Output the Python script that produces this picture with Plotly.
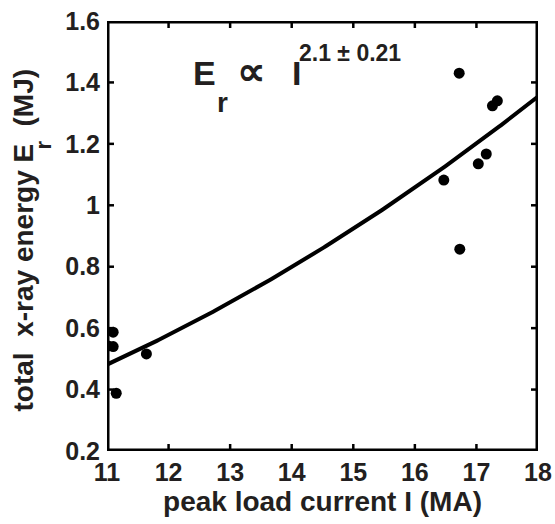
import numpy as np
import plotly.graph_objects as go

# Measured shots: peak load current (MA) and total x-ray energy (MJ)
current_MA = [11.02, 11.10, 11.10, 11.15, 11.64, 16.47, 16.72, 16.73, 17.03, 17.16, 17.26, 17.34]
energy_MJ = [0.542, 0.587, 0.540, 0.388, 0.516, 1.082, 1.430, 0.857, 1.135, 1.167, 1.324, 1.340]

# Power-law fit E_r = a * I^p
fit_exponent = 2.1
fit_coeff = 0.00313

x_ticks = [11, 12, 13, 14, 15, 16, 17, 18]
y_ticks = [0.2, 0.4, 0.6, 0.8, 1.0, 1.2, 1.4, 1.6]
y_tick_text = ["0.2", "0.4", "0.6", "0.8", "1", "1.2", "1.4", "1.6"]

INK = "#231f20"
FONT = "Liberation Sans"
W, H = 555, 524
MARGIN = dict(l=107, r=17, t=21, b=73)
PLOT_W = W - MARGIN["l"] - MARGIN["r"]
PLOT_H = H - MARGIN["t"] - MARGIN["b"]
TICK_LEN = 7  # px, ticks point into the plot on all four sides

x0, x1 = x_ticks[0], x_ticks[-1]
y0, y1 = y_ticks[0], y_ticks[-1]

i_fit = np.linspace(x0, x1, 200)
e_fit = fit_coeff * i_fit ** fit_exponent

fig = go.Figure()

# Box frame drawn as a closed line around the axis ranges
fig.add_trace(go.Scatter(x=[x0, x1, x1, x0, x0], y=[y0, y0, y1, y1, y0], mode="lines",
                         line=dict(color="black", width=5), hoverinfo="skip"))

# Inward ticks on all four sides
dy = TICK_LEN * (y1 - y0) / PLOT_H
dx = TICK_LEN * (x1 - x0) / PLOT_W
tx, ty = [], []
for v in x_ticks[1:-1]:
    tx += [v, v, None, v, v, None]
    ty += [y0, y0 + dy, None, y1, y1 - dy, None]
for v in y_ticks[1:-1]:
    tx += [x0, x0 + dx, None, x1, x1 - dx, None]
    ty += [v, v, None, v, v, None]
fig.add_trace(go.Scatter(x=tx, y=ty, mode="lines", line=dict(color="black", width=2.5),
                         hoverinfo="skip"))

fig.add_trace(go.Scatter(x=i_fit, y=e_fit, mode="lines",
                         line=dict(color="black", width=4), hoverinfo="skip"))
fig.add_trace(go.Scatter(x=current_MA, y=energy_MJ, mode="markers",
                         marker=dict(color="black", size=11)))

axis_common = dict(showgrid=False, zeroline=False, showline=False, ticks="",
                   automargin=False,
                   tickfont=dict(family=FONT, size=25, color=INK))

fig.update_xaxes(range=[x0, x1], tickvals=x_ticks,
                 ticktext=[f"<b>{v}</b>" for v in x_ticks], ticklabelstandoff=4,
                 title=dict(text="<b>peak load current I (MA)</b>", standoff=5,
                            font=dict(family=FONT, size=28, color=INK)),
                 **axis_common)
fig.update_yaxes(range=[y0, y1], tickvals=y_ticks,
                 ticktext=[f"<b>{t}</b>" for t in y_tick_text], ticklabelstandoff=6,
                 **axis_common)


def label(text, x, y, size, xanchor="left", angle=0):
    fig.add_annotation(text=f"<b>{text}</b>", x=x, y=y, xref="paper", yref="paper",
                       xanchor=xanchor, yanchor="middle", showarrow=False,
                       textangle=angle, font=dict(family=FONT, size=size, color=INK))


# Y-axis title, with a deep subscript on E
label("total\u00a0 x-ray energy E", -0.1949, 0.4035, 28, xanchor="center", angle=-90)
label("r", -0.1485, 0.7128, 22, xanchor="center", angle=-90)
label("(MJ)", -0.1949, 0.8221, 28, xanchor="center", angle=-90)

# Scaling-law label
label("E", 0.195, 0.880, 34)
label("r", 0.251, 0.811, 28)
label("∝", 0.3357, 0.883, 40, xanchor="center")
label("I", 0.4246, 0.880, 34)
label("2.1 ± 0.21", 0.441, 0.926, 23)

fig.update_layout(width=W, height=H, showlegend=False, margin=MARGIN,
                  paper_bgcolor="white", plot_bgcolor="white")

fig.write_html("out.html")
